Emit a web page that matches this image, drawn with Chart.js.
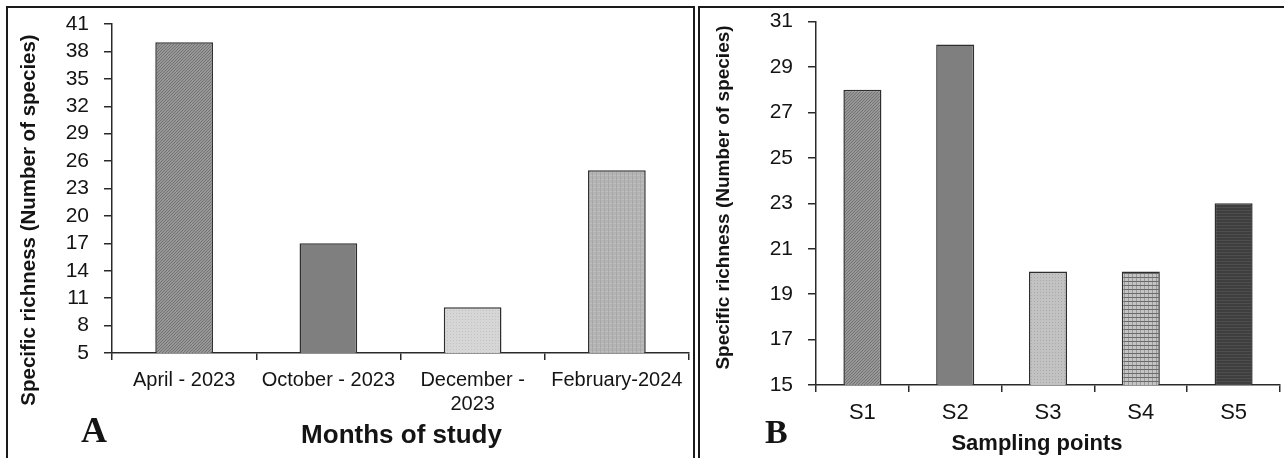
<!DOCTYPE html>
<html>
<head>
<meta charset="utf-8">
<title>Specific richness</title>
<script src="https://cdn.jsdelivr.net/npm/chart.js@4.4.1/dist/chart.umd.min.js"></script>
<style>
  html, body { margin: 0; padding: 0; background: #fff; width: 1284px; height: 458px; overflow: hidden; }
  .frame { position: absolute; border-top: 2px solid #1a1a1a; border-left: 2px solid #1a1a1a; }
  #frameA { left: 6px; top: 6px; width: 685px; height: 470px; border-right: 2px solid #1a1a1a; }
  #frameB { left: 698px; top: 6px; width: 620px; height: 470px; }
  .box { position: absolute; }
  #boxA { left: 8px; top: 9px; width: 684px; height: 449px; }
  #boxB { left: 700px; top: 9px; width: 584px; height: 449px; }
</style>
</head>
<body>
<div class="frame" id="frameA"></div>
<div class="frame" id="frameB"></div>
<div class="box" id="boxA"><canvas id="chartA"></canvas></div>
<div class="box" id="boxB"><canvas id="chartB"></canvas></div>
<script>
// Panel A: species richness per sampling month
const monthLabels = ['April - 2023', 'October - 2023', ['December -', '2023'], 'February-2024'];
const monthRichness = [39, 17, 10, 25];
const monthTicks = [5, 8, 11, 14, 17, 20, 23, 26, 29, 32, 35, 38, 41];

// Panel B: species richness per sampling point
const pointLabels = ['S1', 'S2', 'S3', 'S4', 'S5'];
const pointRichness = [28, 30, 20, 20, 23];
const pointTicks = [15, 17, 19, 21, 23, 25, 27, 29, 31];

const SANS = "'Liberation Sans', Arial, sans-serif";
const SERIF = "'Liberation Serif', 'Times New Roman', serif";
const AXIS = '#2a2a2a';
const INK = '#141414';

// Small repeating tiles used as bar fills
function tile(w, h, draw) {
  const c = document.createElement('canvas');
  c.width = w; c.height = h;
  const g = c.getContext('2d');
  draw(g);
  return g.createPattern(c, 'repeat');
}
function px(g, col, x, y) { g.fillStyle = col; g.fillRect(x, y, 1, 1); }

const fillDiagonal = tile(3, 3, g => {
  g.fillStyle = '#979797'; g.fillRect(0, 0, 3, 3);
  for (let i = 0; i < 3; i++) px(g, '#747474', i, 2 - i);
});
const fillMid = '#7f7f7f';
const fillLightDots = tile(3, 3, g => {
  g.fillStyle = '#d6d6d6'; g.fillRect(0, 0, 3, 3);
  px(g, '#c2c2c2', 1, 1);
});
const fillGrid = tile(4, 4, g => {
  g.fillStyle = '#b4b4b4'; g.fillRect(0, 0, 4, 4);
  g.fillStyle = '#a8a8a8'; g.fillRect(0, 0, 1, 4);
  g.fillStyle = '#bebebe'; g.fillRect(1, 2, 3, 1);
});
const fillDots = tile(3, 3, g => {
  g.fillStyle = '#c2c2c2'; g.fillRect(0, 0, 3, 3);
  px(g, '#aaaaaa', 1, 1);
});
const fillPlaid = tile(4, 4, g => {
  g.fillStyle = '#c4c4c4'; g.fillRect(0, 0, 4, 4);
  g.fillStyle = '#9a9a9a'; g.fillRect(0, 0, 1, 4);
  g.fillStyle = '#6a6a6a'; g.fillRect(0, 0, 4, 1);
});
const fillDarkLines = tile(3, 3, g => {
  g.fillStyle = '#3e3e3e'; g.fillRect(0, 0, 3, 3);
  g.fillStyle = '#4e4e4e'; g.fillRect(0, 0, 3, 1);
});

// Axis titles and panel letters
function textLayer(items) {
  return {
    id: 'textLayer',
    afterDraw(chart) {
      const ctx = chart.ctx;
      items.forEach(t => {
        ctx.save();
        ctx.font = t.font;
        ctx.fillStyle = INK;
        ctx.textAlign = t.align || 'center';
        ctx.textBaseline = t.baseline || 'alphabetic';
        ctx.translate(t.x, t.y);
        if (t.rotate) ctx.rotate(t.rotate);
        ctx.fillText(t.text, 0, 0);
        ctx.restore();
      });
    }
  };
}

function barChart(id, o) {
  return new Chart(document.getElementById(id), {
    type: 'bar',
    data: {
      labels: o.labels,
      datasets: [{
        data: o.values,
        backgroundColor: o.fills,
        borderColor: '#2e2e2e',
        borderWidth: 1.5,
        categoryPercentage: 1,
        barPercentage: o.barPct
      }]
    },
    options: {
      responsive: true,
      maintainAspectRatio: false,
      animation: false,
      layout: { padding: o.padding, autoPadding: false },
      plugins: { legend: { display: false }, tooltip: { enabled: false } },
      scales: {
        x: {
          grid: { display: true, drawOnChartArea: false, drawTicks: true, tickLength: 7, color: AXIS, lineWidth: 1.5 },
          border: { display: true, color: AXIS, width: 1.5 },
          ticks: { color: INK, font: { family: SANS, size: o.xFont }, padding: o.xPad, maxRotation: 0, autoSkip: false },
          afterFit: s => { s.height = o.xHeight; s.paddingLeft = 0; s.paddingRight = 0; }
        },
        y: {
          min: o.ticks[0],
          max: o.ticks[o.ticks.length - 1],
          grid: { display: true, drawOnChartArea: false, drawTicks: true, tickLength: 8, color: AXIS, lineWidth: 1.5 },
          border: { display: true, color: AXIS, width: 1.5 },
          ticks: { color: INK, font: { family: SANS, size: 21 }, padding: 15, autoSkip: false },
          afterBuildTicks: s => { s.ticks = o.ticks.map(v => ({ value: v })); },
          afterFit: s => { s.width = o.yWidth; s.paddingTop = 0; s.paddingBottom = 0; }
        }
      }
    },
    plugins: [textLayer(o.text)]
  });
}

barChart('chartA', {
  labels: monthLabels,
  values: monthRichness,
  ticks: monthTicks,
  fills: [fillDiagonal, fillMid, fillLightDots, fillGrid],
  barPct: 0.40,
  padding: { top: 15, right: 3, left: 0, bottom: 0 },
  yWidth: 104,
  xHeight: 105,
  xFont: 20,
  xPad: 8,
  text: [
    { text: 'Specific richness (Number of species)', font: `bold 20.5px ${SANS}`, x: 21.5, y: 211, rotate: -Math.PI / 2, baseline: 'middle' },
    { text: 'Months of study', font: `bold 26px ${SANS}`, x: 393.5, y: 434 },
    { text: 'A', font: `bold 36px ${SERIF}`, x: 73, y: 433, align: 'left' }
  ]
});

barChart('chartB', {
  labels: pointLabels,
  values: pointRichness,
  ticks: pointTicks,
  fills: [fillDiagonal, fillMid, fillDots, fillPlaid, fillDarkLines],
  barPct: 0.41,
  padding: { top: 12.7, right: 4, left: 0, bottom: 0 },
  yWidth: 116,
  xHeight: 73,
  xFont: 22,
  xPad: 8,
  text: [
    { text: 'Specific richness (Number of species)', font: `bold 19px ${SANS}`, x: 23.5, y: 188.5, rotate: -Math.PI / 2, baseline: 'middle' },
    { text: 'Sampling points', font: `bold 22px ${SANS}`, x: 337, y: 441 },
    { text: 'B', font: `bold 34px ${SERIF}`, x: 65, y: 434, align: 'left' }
  ]
});
</script>
</body>
</html>
